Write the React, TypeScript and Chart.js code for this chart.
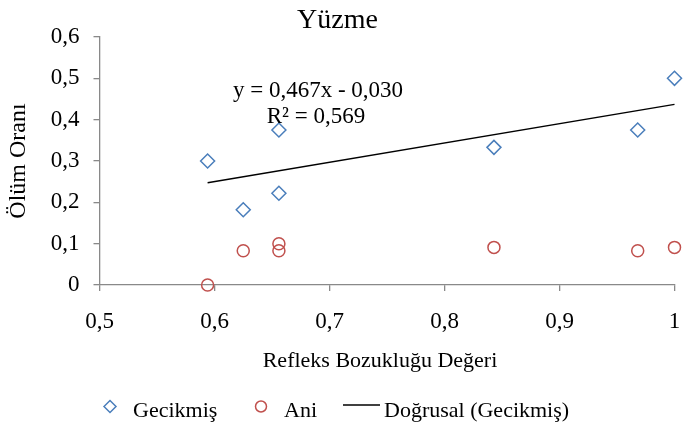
import React, { useEffect, useRef } from 'react';
import { Chart, registerables } from 'chart.js';

Chart.register(...registerables);

const chartTitle = 'Yüzme';
const xAxisTitle = 'Refleks Bozukluğu Değeri';
const yAxisTitle = 'Ölüm Oranı';

const gecikmisLabel = 'Gecikmiş';
const gecikmisX = [0.594, 0.625, 0.656, 0.656, 0.843, 0.968, 1.0];
const gecikmisY = [0.3, 0.182, 0.375, 0.222, 0.333, 0.375, 0.5];

const aniLabel = 'Ani';
const aniX = [0.594, 0.625, 0.656, 0.656, 0.843, 0.968, 1.0];
const aniY = [0.0, 0.083, 0.1, 0.083, 0.091, 0.083, 0.091];

const trendLabel = 'Doğrusal (Gecikmiş)';
const trendSlope = 0.467;
const trendIntercept = -0.03;
const trendEquation = 'y = 0,467x - 0,030';
const trendR2 = 'R² = 0,569';

const xTickValues = [0.5, 0.6, 0.7, 0.8, 0.9, 1.0];
const xTickLabels = ['0,5', '0,6', '0,7', '0,8', '0,9', '1'];
const yTickValues = [0, 0.1, 0.2, 0.3, 0.4, 0.5, 0.6];
const yTickLabels = ['0', '0,1', '0,2', '0,3', '0,4', '0,5', '0,6'];

const FONT = '"Liberation Serif", "Times New Roman", serif';
const BLUE = '#4a7ebb';
const RED = '#c0504d';
const AXIS = '#898989';

function labelFor(values: number[], labels: string[], v: number) {
  const i = values.findIndex((t) => Math.abs(t - v) < 1e-6);
  return i >= 0 ? labels[i] : '';
}

const overlayPlugin = {
  id: 'overlay',
  afterDraw(chart: any) {
    const ctx: CanvasRenderingContext2D = chart.ctx;
    ctx.save();
    ctx.font = `23px ${FONT}`;
    ctx.fillStyle = '#000';
    ctx.textBaseline = 'alphabetic';
    // trendline equation
    ctx.textAlign = 'center';
    ctx.fillText(trendEquation, 318, 97);
    ctx.fillText(trendR2, 316, 123);

    // x axis title
    ctx.font = `22px ${FONT}`;
    ctx.fillText(xAxisTitle, 380, 367);

    // legend
    ctx.textAlign = 'left';
    const ly = 406.5;
    const baseY = 417;
    // diamond
    ctx.strokeStyle = BLUE;
    ctx.lineWidth = 1.5;
    ctx.beginPath();
    ctx.moveTo(104, ly);
    ctx.lineTo(110, ly - 6);
    ctx.lineTo(116, ly);
    ctx.lineTo(110, ly + 6);
    ctx.closePath();
    ctx.stroke();
    ctx.fillText(gecikmisLabel, 133, baseY);
    // circle
    ctx.strokeStyle = RED;
    ctx.beginPath();
    ctx.arc(261, ly, 5.5, 0, Math.PI * 2);
    ctx.stroke();
    ctx.fillText(aniLabel, 284, baseY);
    // line
    ctx.strokeStyle = '#000';
    ctx.lineWidth = 1.5;
    ctx.beginPath();
    ctx.moveTo(343, 405);
    ctx.lineTo(380, 405);
    ctx.stroke();
    ctx.fillText(trendLabel, 384, baseY);
    ctx.restore();
  },
};

export default function App() {
  const ref = useRef<HTMLCanvasElement | null>(null);

  useEffect(() => {
    if (!ref.current) return;
    const gData = gecikmisX.map((x, i) => ({ x, y: gecikmisY[i] }));
    const aData = aniX.map((x, i) => ({ x, y: aniY[i] }));
    const tMin = Math.min(...gecikmisX);
    const tMax = Math.max(...gecikmisX);
    const tData = [
      { x: tMin, y: trendSlope * tMin + trendIntercept },
      { x: tMax, y: trendSlope * tMax + trendIntercept },
    ];

    const chart = new Chart(ref.current, {
      type: 'scatter',
      data: {
        datasets: [
          {
            type: 'line',
            label: trendLabel,
            data: tData,
            borderColor: '#000',
            borderWidth: 1.5,
            pointRadius: 0,
            fill: false,
            clip: false,
            order: 3,
          } as any,
          {
            label: gecikmisLabel,
            data: gData,
            pointStyle: 'rectRot',
            pointRadius: 7,
            borderColor: BLUE,
            backgroundColor: 'rgba(0,0,0,0)',
            borderWidth: 1.5,
            clip: false,
            order: 1,
          },
          {
            label: aniLabel,
            data: aData,
            pointStyle: 'circle',
            pointRadius: 6,
            borderColor: RED,
            backgroundColor: 'rgba(0,0,0,0)',
            borderWidth: 1.5,
            clip: false,
            order: 2,
          },
        ],
      },
      options: {
        responsive: false,
        animation: false,
        devicePixelRatio: 1,
        events: [],
        layout: { padding: { left: 0, right: 8, top: 0, bottom: 58 } },
        plugins: {
          legend: { display: false },
          tooltip: { enabled: false },
          title: {
            display: true,
            text: chartTitle,
            color: '#000',
            font: { family: FONT, size: 28, weight: 'normal' },
            padding: { top: 3.4, bottom: 0 },
          },
        },
        scales: {
          x: {
            type: 'linear',
            position: 'bottom',
            min: 0.5,
            max: 1.0,
            afterFit: (s: any) => {
              s.height = 84;
              s.paddingLeft = 0;
              s.paddingRight = 0;
            },
            afterBuildTicks: (s: any) => {
              s.ticks = xTickValues.map((v) => ({ value: v }));
            },
            ticks: {
              color: '#000',
              font: { family: FONT, size: 23 },
              padding: 17,
              maxRotation: 0,
              callback: (v: any) => labelFor(xTickValues, xTickLabels, Number(v)),
            },
            grid: { drawOnChartArea: false, drawTicks: true, tickLength: 6, color: AXIS, lineWidth: 1.3 },
            border: { color: AXIS, width: 1.3 },
            title: { display: false },
          },
          y: {
            type: 'linear',
            min: 0,
            max: 0.6,
            afterFit: (s: any) => {
              s.width = 99.5;
              s.paddingTop = 0;
              s.paddingBottom = 0;
            },
            afterBuildTicks: (s: any) => {
              s.ticks = yTickValues.map((v) => ({ value: v }));
            },
            ticks: {
              color: '#000',
              font: { family: FONT, size: 23 },
              padding: 14,
              callback: (v: any) => labelFor(yTickValues, yTickLabels, Number(v)),
            },
            grid: { drawOnChartArea: false, drawTicks: true, tickLength: 6, color: AXIS, lineWidth: 1.3 },
            border: { color: AXIS, width: 1.3 },
            title: {
              display: true,
              text: yAxisTitle,
              color: '#000',
              font: { family: FONT, size: 24 },
              padding: { top: 4, bottom: 0 },
            },
          },
        },
      },
      plugins: [overlayPlugin],
    });
    return () => chart.destroy();
  }, []);

  return (
    <div style={{ position: 'fixed', left: 0, top: 0, width: 683, height: 427, background: '#fff' }}>
      <canvas ref={ref} width={683} height={427} style={{ width: 683, height: 427 }} />
    </div>
  );
}
